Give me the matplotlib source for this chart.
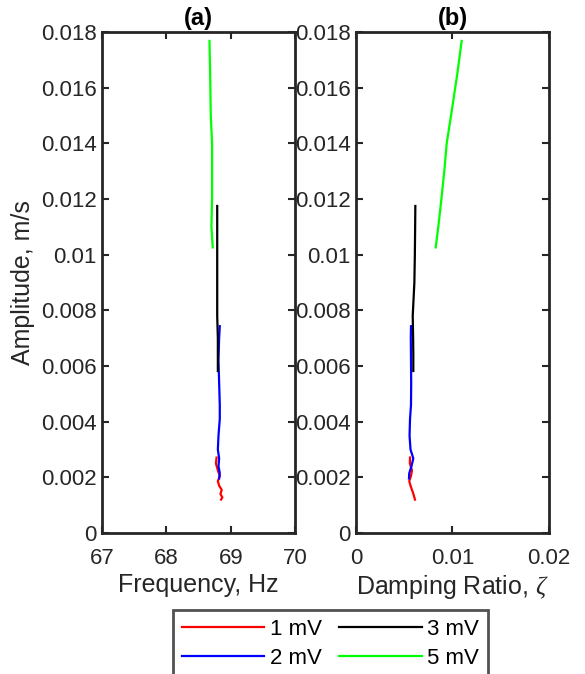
import matplotlib.pyplot as plt
import numpy as np

# amplitude (m/s), frequency (Hz) and damping ratio for each excitation level
amp_1mV = [0.00271, 0.00250, 0.00225, 0.00205, 0.00186, 0.00170, 0.00155, 0.00140, 0.00128, 0.00120]
freq_1mV = [68.78, 68.77, 68.80, 68.83, 68.80, 68.82, 68.86, 68.84, 68.87, 68.85]
damp_1mV = [0.00560, 0.00558, 0.00580, 0.00570, 0.00552, 0.00565, 0.00580, 0.00595, 0.00605, 0.00611]

amp_2mV = [0.00743, 0.00700, 0.00620, 0.00540, 0.00460, 0.00410, 0.00350, 0.00300, 0.00268, 0.00240, 0.00215, 0.00196]
freq_2mV = [68.83, 68.82, 68.81, 68.82, 68.83, 68.83, 68.81, 68.80, 68.82, 68.81, 68.83, 68.82]
damp_2mV = [0.00570, 0.00568, 0.00570, 0.00572, 0.00570, 0.00560, 0.00555, 0.00565, 0.00594, 0.00575, 0.00552, 0.00549]

amp_3mV = [0.01175, 0.01100, 0.01000, 0.00900, 0.00780, 0.00700, 0.00640, 0.00582]
freq_3mV = [68.79, 68.79, 68.79, 68.79, 68.79, 68.80, 68.80, 68.80]
damp_3mV = [0.00615, 0.00613, 0.00610, 0.00605, 0.00588, 0.00592, 0.00594, 0.00594]

amp_5mV = [0.01768, 0.01650, 0.01500, 0.01400, 0.01300, 0.01200, 0.01100, 0.01026]
freq_5mV = [68.67, 68.68, 68.69, 68.71, 68.71, 68.71, 68.70, 68.72]
damp_5mV = [0.01095, 0.01050, 0.00985, 0.00940, 0.00915, 0.00885, 0.00853, 0.00826]

labels = ['1 mV', '2 mV', '3 mV', '5 mV']
colors = ['#ff0000', '#0000ff', '#000000', '#00ff00']

plt.rcParams['font.family'] = ['Liberation Sans', 'DejaVu Sans']
plt.rcParams['mathtext.fontset'] = 'custom'
plt.rcParams['mathtext.it'] = 'Liberation Serif:italic'
tick_fs = 16
label_fs = 18
title_fs = 17
gray = '#262626'

fig = plt.figure(figsize=(5.85, 6.74), dpi=100)
ax1 = fig.add_axes([0.1744, 0.2092, 0.330, 0.7433])
ax2 = fig.add_axes([0.6085, 0.2092, 0.330, 0.7433])

amps = [amp_1mV, amp_2mV, amp_3mV, amp_5mV]
freqs = [freq_1mV, freq_2mV, freq_3mV, freq_5mV]
damps = [damp_1mV, damp_2mV, damp_3mV, damp_5mV]

handles = []
for a, f, d, lab, col in zip(amps, freqs, damps, labels, colors):
    h, = ax1.plot(f, a, color=col, lw=1.6, label=lab)
    ax2.plot(d, a, color=col, lw=1.6)
    handles.append(h)

for ax in (ax1, ax2):
    ax.set_ylim(0, 0.018)
    ax.set_yticks(np.arange(0, 0.0181, 0.002))
    ax.set_yticklabels(['0'] + ['%g' % v for v in np.arange(0.002, 0.0181, 0.002)])
    ax.tick_params(direction='in', top=True, right=True, length=5, width=1.5,
                   labelsize=tick_fs, colors=gray, labelcolor=gray)
    ax.tick_params(axis='y', pad=4)
    ax.tick_params(axis='x', pad=11)
    for s in ax.spines.values():
        s.set_linewidth(2)
        s.set_color(gray)

ax1.set_xlim(67, 70)
ax1.set_xticks([67, 68, 69, 70])
ax2.set_xlim(0, 0.02)
ax2.set_xticks([0, 0.01, 0.02])
ax2.set_xticklabels(['0', '0.01', '0.02'])

ax1.set_title('(a)', fontsize=title_fs, fontweight='bold', pad=5)
ax2.set_title('(b)', fontsize=title_fs, fontweight='bold', pad=5)
ax1.set_xlabel('Frequency, Hz', fontsize=label_fs, color=gray, labelpad=3)
ax2.set_xlabel(r'Damping Ratio, $\zeta$', fontsize=label_fs, color=gray, labelpad=3)
ax1.set_ylabel('Amplitude, m/s', fontsize=label_fs, color=gray, labelpad=4)

# legend order: 1 mV, 2 mV in first column; 3 mV, 5 mV in second
leg = fig.legend(handles, labels, loc='upper center', bbox_to_anchor=(0.565, 0.095),
                 ncol=2, fontsize=tick_fs, frameon=True, fancybox=False, edgecolor=gray,
                 handlelength=3.7, columnspacing=0.8, labelspacing=0.35, borderpad=0.4,
                 handletextpad=0.25, borderaxespad=0)
leg.get_frame().set_linewidth(2)

fig.savefig('out.png', dpi=100)
